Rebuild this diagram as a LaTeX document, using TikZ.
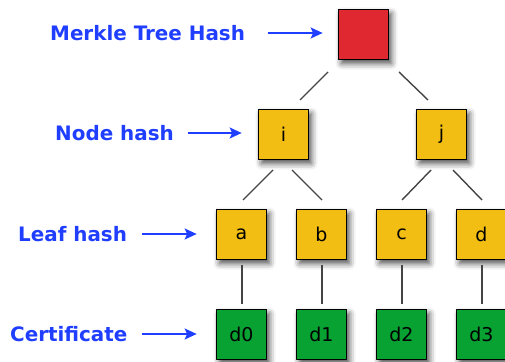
\documentclass[tikz,border=0pt]{standalone}
\usepackage{fontspec}
\setmainfont{DejaVu Sans}
\usetikzlibrary{arrows.meta,calc,shadows.blur}
\definecolor{lblue}{HTML}{1F3EFF}
\definecolor{hred}{HTML}{E02830}
\definecolor{hyel}{HTML}{F2BE14}
\definecolor{hgreen}{HTML}{07A232}
\definecolor{edgegray}{HTML}{444444}
\tikzset{
  hbox/.style={draw=black, line width=1.7pt, minimum size=50pt, inner sep=0pt,
    font=\fontsize{19}{19}\selectfont,
    blur shadow={shadow xshift=3pt, shadow yshift=-4pt, shadow blur radius=6pt, shadow opacity=70}},
  rootbox/.style={hbox, fill=hred},
  midbox/.style={hbox, fill=hyel},
  certbox/.style={hbox, fill=hgreen},
  lbl/.style={anchor=west, inner sep=0pt, text=lblue, font=\bfseries\fontsize{19.9}{20}\selectfont},
  arr/.style={draw=lblue, line width=1.9pt, -{Stealth[length=12pt,width=11pt,inset=2.5pt]}},
  edge/.style={draw=edgegray, line width=1.4pt}
}
\begin{document}
\begin{tikzpicture}[x=1pt,y=-1pt]
\path[use as bounding box] (0,0) rectangle (505,361);
% boxes
\node[rootbox] (root) at (363.5,34.5) {};
\node[midbox] (i) at (283.5,134.5) {i};
\node[midbox] (j) at (441.5,134.5) {j};
\node[midbox] (a) at (241.5,234.5) {a};
\node[midbox] (b) at (321.5,234.5) {b};
\node[midbox] (c) at (401.5,234.5) {c};
\node[midbox] (d) at (481.5,234.5) {d};
\node[certbox] (d0) at (241.5,334.5) {d0};
\node[certbox] (d1) at (321.5,334.5) {d1};
\node[certbox] (d2) at (401.5,334.5) {d2};
\node[certbox] (d3) at (481.5,334.5) {d3};
% edges
\draw[edge] ($(root.center)+(-35.5,37.5)$) -- ($(i.center)+(16.5,-34.5)$);
\draw[edge] ($(root.center)+(35.5,37.5)$) -- ($(j.center)+(-13.5,-34.5)$);
\draw[edge] ($(i.center)+(-10.5,35.5)$) -- ($(a.center)+(1.5,-34.5)$);
\draw[edge] ($(i.center)+(8.5,35.5)$) -- ($(b.center)+(0.5,-34.5)$);
\draw[edge] ($(j.center)+(-10.5,35.5)$) -- ($(c.center)+(0.5,-34.5)$);
\draw[edge] ($(j.center)+(11.5,35.5)$) -- ($(d.center)+(0.5,-34.5)$);
\foreach \u/\v in {a/d0,b/d1,c/d2,d/d3}
  \draw[edge] ($(\u.center)+(0.5,30.5)$) -- ($(\v.center)+(0.5,-30.5)$);
% labels
\node[lbl] (lroot) at (50,33) {Merkle Tree Hash};
\node[lbl] (lnode) at (55,133) {Node hash};
\node[lbl] (lleaf) at (18,234) {Leaf hash};
\node[lbl] (lcert) at (10,334) {Certificate};
\draw[arr, shorten <=23pt, shorten >=15pt] (lroot.east) -- (root.west |- lroot.east);
\draw[arr, shorten <=14pt, shorten >=16pt] (lnode.east) -- (i.west |- lnode.east);
\draw[arr, shorten <=15pt, shorten >=19pt] (lleaf.east) -- (a.west |- lleaf.east);
\draw[arr, shorten <=14pt, shorten >=19pt] (lcert.east) -- (d0.west |- lcert.east);
\end{tikzpicture}
\end{document}
